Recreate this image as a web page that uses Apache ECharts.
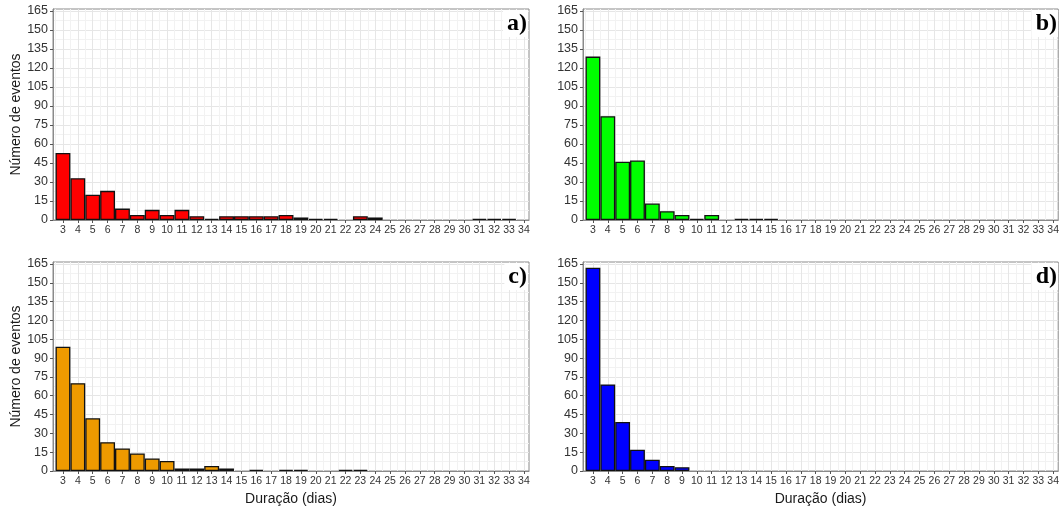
<!DOCTYPE html>
<html><head><meta charset="utf-8">
<script src="https://cdn.jsdelivr.net/npm/echarts@6/dist/echarts.min.js"></script>
<style>html,body{margin:0;padding:0;background:#fff}#c{width:1062px;height:507px}</style>
</head><body><div id="c"></div>
<script>
const durations = [3,4,5,6,7,8,9,10,11,12,13,14,15,16,17,18,19,20,21,22,23,24,25,26,27,28,29,30,31,32,33,34];
const eventsA = [53,33,20,23,9,4,8,4,8,3,1,3,3,3,3,4,2,1,1,0,3,2,0,0,0,0,0,0,1,1,1,0];
const eventsB = [129,82,46,47,13,7,4,1,4,0,1,1,1,0,0,0,0,0,0,0,0,0,0,0,0,0,0,0,0,0,0,0];
const eventsC = [99,70,42,23,18,14,10,8,2,2,4,2,0,1,0,1,1,0,0,1,1,0,0,0,0,0,0,0,0,0,0,0];
const eventsD = [162,69,39,17,9,4,3,0,0,0,0,0,0,0,0,0,0,0,0,0,0,0,0,0,0,0,0,0,0,0,0,0];
const yTicks = [0,15,30,45,60,75,90,105,120,135,150,165];
const panelLabels = ['a)','b)','c)','d)'];
const yTitle = 'Número de eventos';
const xTitle = 'Duração (dias)';

const yMinor = yTicks.slice(0, -1).map(v => v + 7.5);
const xMinor = durations.slice(0, -1).map(v => v + 0.5).concat([2.5]);

const panels = [
  {values: eventsA, color: '#FF0000', left: 53, top: 9, yName: true, xName: false},
  {values: eventsB, color: '#00FF00', left: 583, top: 9, yName: false, xName: false},
  {values: eventsC, color: '#EE9A00', left: 53, top: 262, yName: true, xName: true},
  {values: eventsD, color: '#0000FF', left: 583, top: 262, yName: false, xName: true}
];
const W = 476, H = 211;
const font = 'Liberation Sans, Arial, sans-serif';

const grid = [], xAxis = [], yAxis = [], series = [], title = [];
panels.forEach((p, i) => {
  grid.push({left: p.left, top: p.top, width: W, height: H, show: true,
    borderColor: '#8a8a8a', borderWidth: 1, backgroundColor: '#fff'});
  xAxis.push({type: 'value', gridIndex: i, min: 2.33, max: 34.34, position: 'bottom',
    axisLine: {show: true, onZero: false, lineStyle: {color: '#8a8a8a', width: 1}},
    axisTick: {show: true, customValues: durations, length: 3, lineStyle: {color: '#555'}},
    axisLabel: {show: true, customValues: durations, fontSize: 10.5, fontFamily: font, color: '#333', margin: 5},
    splitLine: {show: true, lineStyle: {color: '#e6e6e6', width: 1}},
    name: p.xName ? xTitle : '', nameLocation: 'middle', nameGap: 21,
    nameTextStyle: {fontSize: 14, fontFamily: font, color: '#1a1a1a'}
  });
  xAxis.push({type: 'value', gridIndex: i, min: 2.33, max: 34.34, position: 'top',
    axisLine: {show: false}, axisLabel: {show: false},
    axisTick: {show: false, customValues: xMinor},
    splitLine: {show: true, lineStyle: {color: '#f2f2f2', width: 1}}
  });
  yAxis.push({type: 'value', gridIndex: i, min: 0, max: 166.6, position: 'left',
    axisLine: {show: true, lineStyle: {color: '#8a8a8a', width: 1}},
    axisTick: {show: true, customValues: yTicks, length: 3, lineStyle: {color: '#555'}},
    axisLabel: {show: true, customValues: yTicks, fontSize: 12.5, fontFamily: font, color: '#333', margin: 5},
    splitLine: {show: true, lineStyle: {color: '#e6e6e6', width: 1}},
    name: p.yName ? yTitle : '', nameLocation: 'middle', nameGap: 29,
    nameTextStyle: {fontSize: 14, fontFamily: font, color: '#1a1a1a'}
  });
  yAxis.push({type: 'value', gridIndex: i, min: 0, max: 166.6, position: 'right',
    axisLine: {show: false}, axisLabel: {show: false},
    axisTick: {show: false, customValues: yMinor},
    splitLine: {show: true, lineStyle: {color: '#f2f2f2', width: 1}}
  });
  series.push({type: 'bar', xAxisIndex: 2 * i, yAxisIndex: 2 * i,
    barWidth: '100%', silent: true,
    itemStyle: {color: p.color, borderColor: '#111', borderWidth: 1.3},
    data: durations.map((d, k) => [d, p.values[k] > 0 ? p.values[k] : '-'])
  });
  title.push({text: panelLabels[i], right: 1062 - (p.left + W) + 1, top: p.top + 1,
    padding: [2, 1, 1, 4], backgroundColor: '#fff',
    textStyle: {fontFamily: 'Liberation Serif, Times New Roman, serif', fontWeight: 'bold', fontSize: 24, color: '#000'}
  });
});

const chart = echarts.init(document.getElementById('c'), null, {renderer: 'canvas'});
chart.setOption({animation: false, backgroundColor: '#fff', title, grid, xAxis, yAxis, series});
</script>
</body></html>
